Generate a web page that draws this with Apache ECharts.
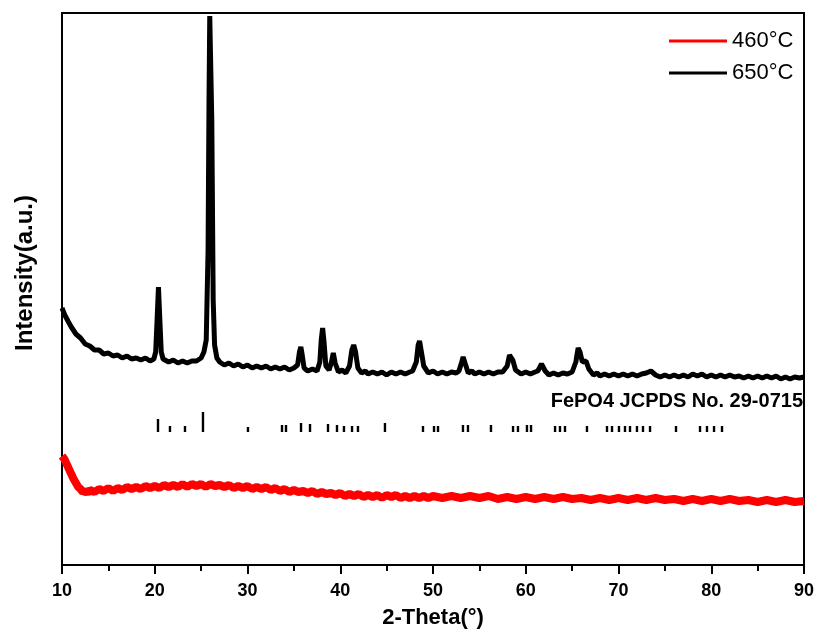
<!DOCTYPE html>
<html>
<head>
<meta charset="utf-8">
<script src="https://cdn.jsdelivr.net/npm/echarts@6/dist/echarts.min.js"></script>
<style>html,body{margin:0;padding:0;background:#fff;}#c{width:819px;height:633px;}</style>
</head>
<body>
<div id="c"></div>
<script>
// x-axis ticks
const xTicks = [10, 20, 30, 40, 50, 60, 70, 80, 90];
const seriesNames = ['460°C', '650°C'];

// 650°C pattern: [2-Theta, intensity (a.u.)]
const data650 = [
[10,257],[10.3,250],[10.7,243],[11,238],[11.5,231],[12,227],[12.5,221],[13,219],[13.5,215],[14,215],
[14.5,211],[15,212],[15.5,209],[16,210],[16.5,207],[17,209],[17.5,206],[18,207],[18.5,205],[19,207],
[19.5,204],[19.9,206],[20.1,213],[20.25,245],[20.4,278],[20.55,245],[20.7,213],[20.9,206],[21.5,203],
[22,205],[22.5,202],[23,204],[23.5,202],[24,204],[24.5,204],[25,207],[25.3,213],[25.55,225],[25.75,315],
[25.85,465],[25.93,549],[26.07,549],[26.15,445],[26.3,265],[26.45,220],[26.7,207],[27,203],[27.5,200],
[28,202],[28.5,199],[29,201],[29.5,198],[30,200],[30.5,197],[31,199],[31.5,197],[32,199],[32.5,196],
[33,198],[33.5,196],[34,198],[34.5,195],[35,197],[35.4,200],[35.6,213],[35.75,218],[35.9,210],[36.1,197],
[36.5,194],[37,196],[37.5,194],[37.8,203],[37.95,225],[38.1,237],[38.25,223],[38.45,199],[38.8,195],
[39.05,203],[39.25,212],[39.45,202],[39.8,193],[40.2,195],[40.6,192],[41,199],[41.25,215],[41.45,220],
[41.65,213],[41.9,197],[42.3,192],[42.7,194],[43,191],[43.5,193],[44,191],[44.5,193],[45,190],[45.5,193],
[46,191],[46.5,193],[47,191],[47.5,193],[47.8,194],[48.2,203],[48.4,220],[48.55,224],[48.75,213],[49,199],
[49.5,192],[50,194],[50.5,191],[51,193],[51.5,191],[52,193],[52.5,192],[52.8,194],[53.1,203],[53.25,208],
[53.45,202],[53.8,192],[54.2,194],[54.5,191],[55,193],[55.5,191],[56,193],[56.5,191],[57,193],[57.5,193],
[58,199],[58.25,210],[58.4,212],[58.6,205],[58.9,195],[59.5,191],[60,193],[60.5,191],[61,193],[61.3,194],
[61.7,201],[62.1,194],[62.5,190],[63,192],[63.5,190],[64,192],[64.5,191],[65,193],[65.4,203],[65.65,217],
[65.85,213],[66.1,203],[66.5,204],[66.8,196],[67.3,190],[67.7,192],[68,189],[68.5,191],[69,189],[69.5,191],
[70,189],[70.5,191],[71,189],[71.5,191],[72,189],[72.5,191],[73,192],[73.5,194],[74,190],[74.5,188],
[75,190],[75.5,188],[76,190],[76.5,188],[77,190],[77.5,188],[78,191],[78.5,189],[79,191],[79.5,188],
[80,190],[80.5,188],[81,190],[81.5,188],[82,190],[82.5,188],[83,189],[83.5,187],[84,189],[84.5,187],
[85,189],[85.5,187],[86,189],[86.5,187],[87,189],[87.5,186],[88,188],[88.5,186],[89,188],[89.5,187],[90,188]
];

// 460°C pattern: [2-Theta, intensity (a.u.)]
const data460 = [
[10,109],[10.25,106],[10.5,101],[10.75,96],[11,91],[11.25,86],[11.5,82],[11.75,78],[12,76],[12.25,73],
[12.5,74],[12.75,72],[13,75],[13.5,73],[14,76],[14.5,74],[15,77],[15.5,74],[16,77],[16.5,75],[17,78],
[17.5,76],[18,78],[18.5,76],[19,79],[19.5,77],[20,79],[20.5,77],[21,80],[21.5,78],[22,80],[22.5,78],
[23,81],[23.5,78],[24,81],[24.5,79],[25,81],[25.5,78],[26,81],[26.5,79],[27,80],[27.5,78],[28,80],
[28.5,77],[29,79],[29.5,77],[30,79],[30.5,76],[31,78],[31.5,76],[32,78],[32.5,75],[33,77],[33.5,74],
[34,76],[34.5,73],[35,75],[35.5,73],[36,74],[36.5,72],[37,74],[37.5,71],[38,73],[38.5,71],[39,72],
[39.5,70],[40,72],[40.5,69],[41,71],[41.5,69],[42,71],[42.5,68],[43,70],[43.5,68],[44,70],[44.5,67],
[45,70],[45.5,68],[46,70],[46.5,67],[47,69],[47.5,67],[48,69],[48.5,67],[49,69],[49.5,67],[50,69],
[51,67],[52,69],[53,67],[54,69],[55,67],[56,69],[57,66],[58,68],[59,66],[60,68],[61,66],[62,68],
[63,66],[64,68],[65,66],[66,67],[67,65],[68,67],[69,65],[70,67],[71,65],[72,67],[73,65],[74,67],
[75,65],[76,66],[77,64],[78,66],[79,64],[80,66],[81,64],[82,66],[83,64],[84,65],[85,63],[86,65],
[87,63],[88,65],[89,63],[90,64]
];

// JCPDS 29-0715 reference lines
const refPos = [20.35,21.64,23.26,25.2,30.05,33.72,34.15,35.77,36.74,38.68,39.65,40.4,41.27,41.91,44.82,
48.92,50.11,50.54,53.23,53.77,56.25,58.63,59.16,60.13,60.57,63.16,63.69,64.23,66.6,68.76,69.3,70.05,
70.7,71.24,71.99,72.64,73.4,76.2,78.79,79.54,80.3,81.16];
const refHeight = [13,6,6,20,5,7,7,9,8,8,7,6,6,6,9,
6,6,6,7,7,7,6,6,7,7,6,6,6,6,6,6,6,
6,6,6,6,6,6,6,6,6,6];
const refBase = 133;
const refLabel = 'FePO4 JCPDS No. 29-0715';

const chart = echarts.init(document.getElementById('c'));
const font = 'Liberation Sans, Arial, sans-serif';
chart.setOption({
  animation: false,
  backgroundColor: '#fff',
  grid: {left: 62, right: 15, top: 13, bottom: 68, outerBoundsMode: 'none', containLabel: false,
         show: true, borderColor: '#000', borderWidth: 2, backgroundColor: 'transparent'},
  legend: {
    orient: 'vertical', left: 664, top: 25, itemWidth: 58, itemHeight: 3, itemGap: 10, icon: 'rect',
    data: seriesNames,
    textStyle: {fontFamily: font, fontSize: 22, color: '#000', lineHeight: 22}
  },
  xAxis: {
    type: 'value', min: xTicks[0], max: xTicks[xTicks.length - 1], interval: 10,
    name: '2-Theta(°)', nameLocation: 'middle', nameGap: 42,
    nameTextStyle: {fontFamily: font, fontSize: 22, fontWeight: 'bold', color: '#000'},
    axisLine: {lineStyle: {color: '#000', width: 2}},
    axisTick: {inside: false, length: 9, lineStyle: {color: '#000', width: 2}},
    minorTick: {show: true, splitNumber: 2, length: 6, lineStyle: {color: '#000', width: 2}},
    axisLabel: {fontFamily: font, fontSize: 18, fontWeight: 'bold', color: '#000', margin: 17},
    splitLine: {show: false}
  },
  yAxis: {
    type: 'value', min: 0, max: 552,
    axisLine: {show: true, lineStyle: {color: '#000', width: 2}},
    axisTick: {show: false}, axisLabel: {show: false}, splitLine: {show: false}
  },
  graphic: [{
    type: 'text', right: 16, top: 391,
    style: {text: refLabel, font: 'bold 20px ' + font, fill: '#000'}
  }, {
    type: 'text', x: 25, y: 273, rotation: Math.PI / 2,
    style: {text: 'Intensity(a.u.)', font: 'bold 24px ' + font, fill: '#000', align: 'center', verticalAlign: 'middle'}
  }],
  series: [
    {name: seriesNames[0], type: 'line', data: data460, showSymbol: false, symbol: 'none', clip: true,
     color: '#ff0000', lineStyle: {color: '#ff0000', width: 8}},
    {name: seriesNames[1], type: 'line', data: data650, showSymbol: false, symbol: 'none', clip: true,
     color: '#000', lineStyle: {color: '#000', width: 5}},
    {name: 'ref', type: 'custom', data: refPos.map((p, i) => [p, refHeight[i]]),
     renderItem: function (params, api) {
       const p0 = api.coord([api.value(0), refBase]);
       const p1 = api.coord([api.value(0), refBase + api.value(1)]);
       return {type: 'rect', shape: {x: p0[0] - 1.2, y: p1[1], width: 2.4, height: p0[1] - p1[1]}, style: {fill: '#000'}};
     }}
  ]
});
</script>
</body>
</html>
